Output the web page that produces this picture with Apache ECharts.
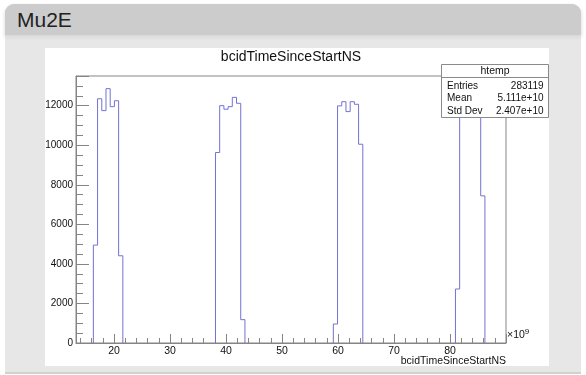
<!DOCTYPE html>
<html>
<head>
<meta charset="utf-8">
<script src="https://cdn.jsdelivr.net/npm/echarts@6/dist/echarts.min.js"></script>
<style>
    body { margin: 0; background: #fff; font-family: 'Liberation Sans', Arial, sans-serif; }
    #panel { position: absolute; left: 5px; top: 4px; width: 576px; height: 368px; background: #e7e7e7;
             border-radius: 9px 9px 0 0; border-bottom: 2px solid #d2d2d2; }
    #head { position: absolute; left: 0; top: 0; width: 576px; height: 31px; background: #cccccc;
            border-radius: 9px 9px 0 0; box-shadow: 0 2px 4px #d6d6d6; }
    #head span { position: absolute; left: 12px; top: 4px; font-size: 21px; color: #222; }
    #hist { position: absolute; left: 45px; top: 48px; width: 504px; height: 318px; background: #fff; }
</style>
</head>
<body>
<div id="panel"><div id="head"><span>Mu2E</span></div></div>
<div id="hist"></div>
<script>
// axes (x in units of 1e9 ns)
const xMin = 13.2;
const xMax = 90;
const yMax = 13500;
const yLabels = [0, 2000, 4000, 6000, 8000, 10000, 12000];

// histogram: 4 groups of 7 bins, width 0.752e9
const binWidth = 0.752;
const groupStarts = [16.30, 38.11, 59.16, 80.97];
const groupCounts = [
    [4950, 12350, 11750, 12860, 11950, 12250, 4410],
    [9630, 12000, 11820, 11950, 12420, 12120, 1180],
    [960, 11990, 12200, 11700, 12200, 12070, 10050],
    [2730, 12100, 12300, 12000, 12200, 12100, 7440]
];

// stats box
const statNames = ['Entries', 'Mean', 'Std Dev'];
const statValues = ['283119', '5.111e+10', '2.407e+10'];

let chart;

function buildSteps(start, counts) {
    // contour of the bins, like ROOT draws it
    let pts = [[start, 0]];
    counts.forEach((c, i) => {
        pts.push([start + i * binWidth, c]);
        pts.push([start + (i + 1) * binWidth, c]);
    });
    pts.push([start + counts.length * binWidth, 0]);
    return pts;
}

function init() {
    chart = echarts.init(document.getElementById('hist'));

    const axisGray = '#858585';
    const font = 'Liberation Sans';

    let series = groupStarts.map((s, k) => ({
        type: 'line',
        data: buildSteps(s, groupCounts[k]),
        symbol: 'none',
        lineStyle: { color: '#7272d4', width: 1 },
        z: 3
    }));

    let statsBox = [
        { type: 'rect', shape: { x: 396.5, y: 16.5, width: 107, height: 53 },
          style: { fill: '#fff', stroke: '#8a8a8a', lineWidth: 1 }, z: 100 },
        { type: 'line', shape: { x1: 396.5, y1: 29.5, x2: 503.5, y2: 29.5 },
          style: { stroke: '#8a8a8a', lineWidth: 1 }, z: 101 },
        { type: 'text', x: 450, y: 23, z: 101,
          style: { text: 'htemp', align: 'center', verticalAlign: 'middle', fontSize: 10.5, fontFamily: font, fill: '#111' } }
    ];
    statNames.forEach((n, i) => {
        statsBox.push({ type: 'text', x: 402, y: 38 + i * 12.5, z: 101,
            style: { text: n, align: 'left', verticalAlign: 'middle', fontSize: 10, fontFamily: font, fill: '#111' } });
        statsBox.push({ type: 'text', x: 498.5, y: 38 + i * 12.5, z: 101,
            style: { text: statValues[i], align: 'right', verticalAlign: 'middle', fontSize: 10, fontFamily: font, fill: '#111' } });
    });

    let options = {
        animation: false,
        grid: { left: 31, right: 43, top: 28, bottom: 23, show: true, outerBoundsMode: 'none',
                borderColor: axisGray, borderWidth: 1, backgroundColor: 'transparent' },
        xAxis: {
            type: 'value', min: xMin, max: xMax, splitNumber: 8,
            axisLine: { lineStyle: { color: axisGray } },
            axisTick: { inside: true, length: 9, lineStyle: { color: axisGray } },
            minorTick: { show: true, splitNumber: 5, length: 5, lineStyle: { color: axisGray } },
            splitLine: { show: false },
            axisLabel: { color: '#111', fontSize: 10.5, fontFamily: font, margin: 3,
                         showMinLabel: false, showMaxLabel: false,
                         formatter: v => (v % 10 === 0 ? String(v) : '') }
        },
        yAxis: {
            type: 'value', min: 0, max: yMax, interval: 2000,
            axisLine: { show: true, lineStyle: { color: axisGray } },
            axisTick: { show: true, inside: true, length: 13, lineStyle: { color: axisGray } },
            minorTick: { show: true, splitNumber: 4, length: 7, lineStyle: { color: axisGray } },
            splitLine: { show: false },
            axisLabel: { color: '#111', fontSize: 10, fontFamily: font, margin: 3,
                         formatter: v => (yLabels.includes(v) ? String(v) : '') }
        },
        graphic: [
            { type: 'text', x: 246, y: 9,
              style: { text: 'bcidTimeSinceStartNS', align: 'center', verticalAlign: 'middle',
                       fontSize: 14, fontFamily: font, fill: '#111' } },
            { type: 'text', x: 461, y: 313,
              style: { text: 'bcidTimeSinceStartNS', align: 'right', verticalAlign: 'middle',
                       fontSize: 10.5, fontFamily: font, fill: '#111' } },
            { type: 'text', x: 462, y: 287,
              style: { text: '×10{sup|9}', align: 'left', verticalAlign: 'middle',
                       fontSize: 10.5, fontFamily: font, fill: '#111',
                       rich: { sup: { fontSize: 8, fontFamily: font, verticalAlign: 'top', padding: [0, 0, 6, 0] } } } }
        ].concat(statsBox),
        series: series
    };

    chart.setOption(options);
}

window.onload = init;
</script>
</body>
</html>
